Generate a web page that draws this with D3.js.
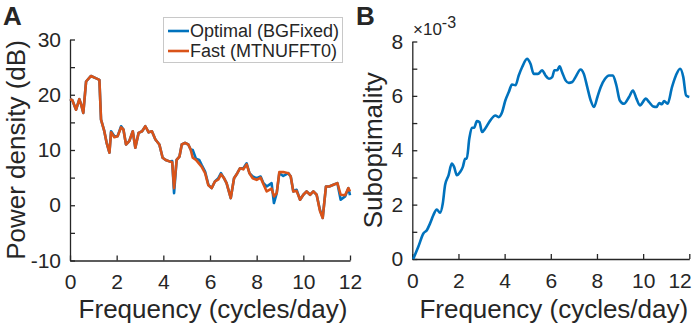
<!DOCTYPE html>
<html>
<head>
<meta charset="utf-8">
<script src="https://cdn.jsdelivr.net/npm/d3@7"></script>
<style>
  body { margin: 0; background: #fff; }
  text { font-family: "Liberation Sans", Arial, Helvetica, sans-serif; fill: #262626; }
</style>
</head>
<body>
<div id="svg"></div>
<script>
// panel A: power spectral density (dB) vs frequency (cycles/day)
var freqA = [0.0, 0.1, 0.26, 0.4, 0.48, 0.57, 0.69, 0.9, 1.1, 1.26, 1.33, 1.47, 1.57, 1.69, 1.76, 1.9, 2.04, 2.19, 2.29, 2.4,
  2.54, 2.69, 2.8, 2.94, 3.09, 3.23, 3.37, 3.51, 3.66, 3.83, 3.97, 4.1, 4.29, 4.38, 4.46, 4.57, 4.69, 4.79, 4.93, 5.07,
  5.17, 5.26, 5.4, 5.54, 5.64, 5.79, 5.93, 6.07, 6.21, 6.36, 6.47, 6.6, 6.71, 6.89, 7.03, 7.17, 7.29, 7.43, 7.57, 7.69,
  7.83, 8.0, 8.17, 8.29, 8.43, 8.64, 8.74, 8.86, 8.97, 9.14, 9.36, 9.46, 9.57, 9.71, 9.86, 10.0, 10.14, 10.29, 10.43, 10.57,
  10.71, 10.83, 10.97, 11.11, 11.29, 11.46, 11.6, 11.79, 11.93, 12.0];
var optimalA = [19.2, 19.0, 17.3, 19.2, 18.2, 16.7, 22.4, 23.4, 23.0, 22.7, 15.5, 13.4, 11.3, 9.5, 13.4, 12.5, 12.5, 14.3, 13.7, 11.0,
  11.6, 13.4, 10.4, 13.1, 13.4, 14.3, 13.2, 13.4, 11.9, 11.0, 8.6, 8.2, 7.9, 8.0, 2.2, 8.2, 8.8, 11.0, 11.3, 11.0,
  10.1, 10.0, 8.4, 8.2, 7.3, 6.1, 3.7, 3.1, 4.3, 4.9, 5.8, 4.9, 4.0, 1.3, 4.9, 5.8, 6.7, 6.7, 7.6, 5.8,
  5.2, 4.9, 5.2, 4.0, 3.4, 4.0, 0.4, 2.2, 5.8, 5.3, 5.8, 5.2, 2.5, 2.8, 1.0, 1.9, 2.5, 1.9, 2.5, 1.9,
  -0.8, -2.3, 3.4, 3.4, 3.7, 4.0, 1.0, 1.6, 3.1, 1.8];
var fastA = [19.2, 19.0, 17.3, 19.2, 18.2, 16.7, 22.4, 23.4, 23.0, 22.7, 15.5, 13.4, 11.3, 9.5, 13.2, 12.3, 12.5, 14.1, 13.7, 11.0,
  11.6, 13.4, 10.4, 13.1, 13.4, 14.3, 13.2, 13.4, 11.9, 11.0, 8.6, 8.2, 7.9, 7.8, 3.1, 8.2, 8.8, 11.0, 11.3, 11.0,
  10.1, 8.6, 8.2, 7.5, 7.0, 5.8, 3.6, 3.1, 4.3, 4.7, 5.6, 4.9, 4.0, 1.3, 4.9, 5.8, 6.7, 6.5, 7.4, 5.8,
  4.9, 4.6, 5.0, 3.8, 2.5, 3.0, 1.6, 2.2, 6.0, 6.0, 5.8, 5.2, 2.5, 2.6, 1.0, 1.9, 2.5, 1.9, 2.5, 1.9,
  -1.0, -2.3, 3.4, 3.4, 3.7, 4.0, 1.9, 1.8, 3.1, 2.5];

// panel B: suboptimality (x 10^-3) vs frequency
var freqB = [0.04, 0.26, 0.48, 0.63, 0.77, 0.91, 1.06, 1.2, 1.32, 1.42, 1.57, 1.71, 1.81, 1.93, 2.07, 2.19, 2.29, 2.36, 2.47, 2.58,
  2.68, 2.8, 2.91, 3.02, 3.16, 3.38, 3.6, 3.74, 3.89, 4.03, 4.18, 4.32, 4.47, 4.61, 4.76, 4.97, 5.12, 5.26, 5.44, 5.63,
  5.77, 5.92, 6.06, 6.16, 6.28, 6.38, 6.49, 6.64, 6.78, 6.93, 7.07, 7.29, 7.43, 7.58, 7.73, 7.87, 8.02, 8.16, 8.35, 8.52,
  8.69, 8.84, 8.99, 9.17, 9.39, 9.56, 9.71, 9.86, 10.12, 10.26, 10.44, 10.58, 10.7, 10.81, 10.91, 11.06, 11.25, 11.42, 11.6, 11.74,
  11.86, 12.0];
var subopt = [0.0, 0.45, 0.94, 1.06, 1.31, 1.61, 1.82, 1.70, 2.04, 2.72, 3.08, 3.51, 3.39, 3.08, 3.2, 3.39, 3.69, 3.69, 4.43, 4.83,
  4.83, 5.07, 5.04, 4.67, 4.8, 5.1, 5.28, 5.22, 5.4, 5.83, 6.14, 6.42, 6.39, 6.75, 7.06, 7.36, 7.18, 6.81, 6.81, 6.94,
  6.75, 6.63, 6.69, 6.94, 6.94, 7.09, 6.87, 6.57, 6.48, 6.51, 6.69, 6.97, 6.81, 6.32, 5.83, 5.59, 5.96, 6.32, 6.63, 6.75,
  6.75, 6.39, 5.83, 5.71, 5.96, 6.2, 5.9, 5.65, 5.9, 5.77, 5.61, 5.59, 5.74, 5.69, 5.81, 5.71, 6.32, 6.75, 7.0, 6.69,
  6.02, 5.96];

var xTicks = [0, 2, 4, 6, 8, 10, 12];
var yTicksA = [-10, 0, 10, 20, 30];
var yTicksB = [0, 2, 4, 6, 8];
var legendNames = ["Optimal (BGFixed)", "Fast (MTNUFFT0)"];

var blue = "#0072BD", orange = "#D95319", axisColor = "#262626";

var svg = d3.select("#svg").append("svg")
  .attr("width", 692)
  .attr("height", 323);

function drawAxes(g, x, y, yMinor, yLabels, xLabel, yLabel, yLabelX) {
  var x0 = x.range()[0], x1 = x.range()[1];
  var yb = y.range()[0];

  // y axis, inward ticks
  var ya = d3.axisLeft(y).tickValues(yMinor).tickSizeInner(-5).tickSizeOuter(0)
    .tickFormat(function(d){ return yLabels.indexOf(d) >= 0 ? d : ""; }).tickPadding(9);
  var gy = g.append("g").attr("transform", "translate(" + x0 + ",0)").call(ya);
  var xa = d3.axisBottom(x).tickValues(xTicks).tickSizeInner(-5).tickSizeOuter(0).tickPadding(14);
  var gx = g.append("g").attr("transform", "translate(0," + yb + ")").call(xa);

  [gx, gy].forEach(function(a){
    a.select(".domain").attr("stroke", axisColor).attr("stroke-width", 1.3);
    a.selectAll(".tick line").attr("stroke", axisColor).attr("stroke-width", 1.3);
    a.selectAll(".tick text").attr("font-size", 21).attr("fill", axisColor)
      .attr("font-family", "Liberation Sans, Arial, sans-serif");
  });

  g.append("text")
    .attr("x", (x0 + x1) / 2 + 3)
    .attr("y", 318)
    .attr("text-anchor", "middle")
    .attr("font-size", 26)
    .text(xLabel);

  g.append("text")
    .attr("transform", "translate(" + yLabelX + "," + ((y.range()[0] + y.range()[1]) / 2) + ") rotate(-90)")
    .attr("text-anchor", "middle")
    .attr("font-size", 26)
    .text(yLabel);
  return gx;
}

// ---- panel A
var xA = d3.scaleLinear().domain([0, 12]).range([70, 350]);
var yA = d3.scaleLinear().domain([-10, 30]).range([260.5, 39.5]);
var gA = svg.append("g");
drawAxes(gA, xA, yA, d3.range(-10, 31, 5), yTicksA, "Frequency (cycles/day)", "Power density (dB)", 25);

var lineA = d3.line()
  .x(function(d){ return xA(d[0]); })
  .y(function(d){ return yA(d[1]); });

gA.append("path")
  .attr("d", lineA(d3.zip(freqA, optimalA)))
  .attr("fill", "none").attr("stroke", blue).attr("stroke-width", 2.6)
  .attr("stroke-linejoin", "round");
gA.append("path")
  .attr("d", lineA(d3.zip(freqA, fastA)))
  .attr("fill", "none").attr("stroke", orange).attr("stroke-width", 2.6)
  .attr("stroke-linejoin", "round");

// legend
var leg = gA.append("g");
leg.append("rect")
  .attr("x", 163.5).attr("y", 17.5).attr("width", 179).attr("height", 45)
  .attr("fill", "#fff").attr("stroke", "#c8c8c8").attr("stroke-width", 1);
[blue, orange].forEach(function(c, i){
  leg.append("line")
    .attr("x1", 168).attr("x2", 189)
    .attr("y1", 31 + i * 20).attr("y2", 31 + i * 20)
    .attr("stroke", c).attr("stroke-width", 2.6);
  leg.append("text")
    .attr("x", 190).attr("y", 37 + i * 20)
    .attr("font-size", 18)
    .text(legendNames[i]);
});

gA.append("text").attr("x", 3).attr("y", 25)
  .attr("font-size", 26).attr("font-weight", "bold").attr("fill", "#000").text("A");

// ---- panel B
var xB = d3.scaleLinear().domain([0, 12]).range([412.3, 689.3]);
var yB = d3.scaleLinear().domain([0, 8]).range([259, 41.5]);
var gB = svg.append("g");
var gxB = drawAxes(gB, xB, yB, d3.range(0, 9, 1), yTicksB, "Frequency (cycles/day)", "Suboptimality", 382);
// last label pulled in so it stays on the page
gxB.selectAll(".tick text").filter(function(d){ return d === 12; })
  .attr("text-anchor", "end").attr("dx", 2);

var lineB = d3.line()
  .x(function(d){ return xB(d[0]); })
  .y(function(d){ return yB(d[1]); })
  .curve(d3.curveMonotoneX);

gB.append("path")
  .attr("d", lineB(d3.zip(freqB, subopt)))
  .attr("fill", "none").attr("stroke", blue).attr("stroke-width", 2.6)
  .attr("stroke-linejoin", "round");

var exp = gB.append("text").attr("x", 413).attr("y", 35).attr("font-size", 17);
exp.append("tspan").text("\u00d710");
exp.append("tspan").attr("dy", -7).attr("font-size", 16).text("-3");

gB.append("text").attr("x", 356).attr("y", 25)
  .attr("font-size", 26).attr("font-weight", "bold").attr("fill", "#000").text("B");
</script>
</body>
</html>
